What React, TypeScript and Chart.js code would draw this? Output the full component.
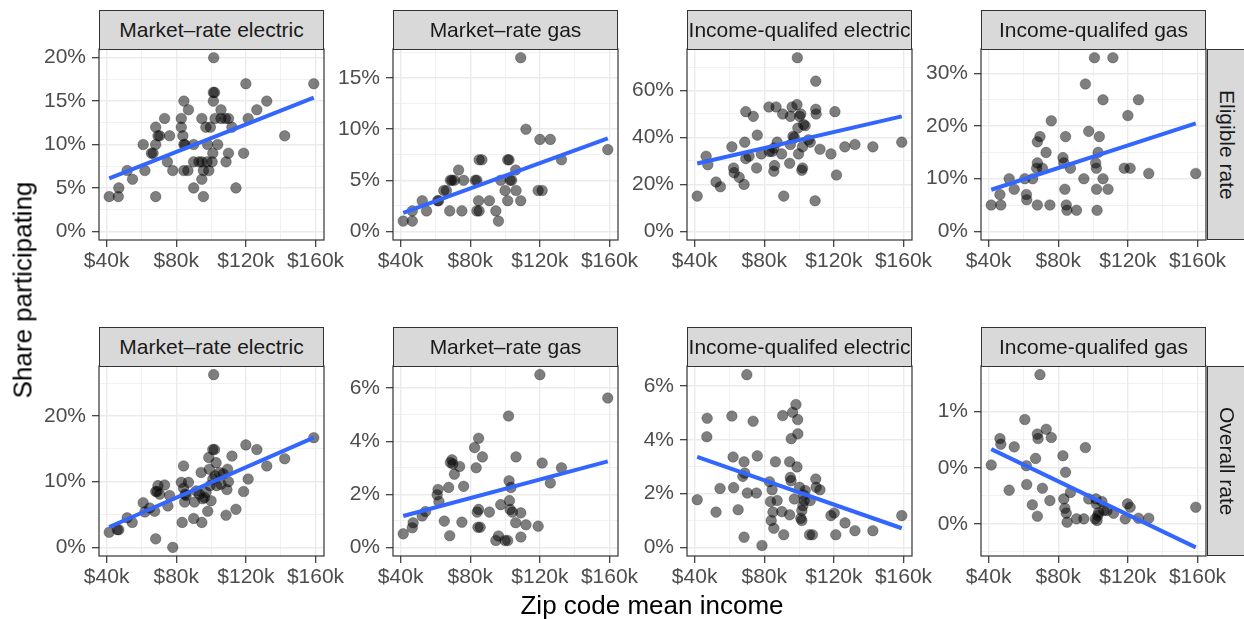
import React, { useEffect, useRef } from "react";
import { Chart, registerables } from "chart.js";

Chart.register(...registerables);

const FONT = '"Liberation Sans", Arial, Helvetica, sans-serif';

// ---------------- data (x: zip code mean income in $k, y: share in %) ----------------
const mrElecEligibleX = [41.5, 46.7, 47, 51.8, 54.9, 61, 62, 65.7, 66.7, 68.2, 68.2, 68.2, 69.5, 70.5, 73.3, 74.9, 76.2, 78, 82.9, 82.9, 83.8, 84.4, 84.4, 85, 84.4, 86.7, 87, 90, 90, 90, 93, 94.7, 94.7, 94.7, 95.6, 95.6, 97, 98, 98.7, 99.6, 100.6, 101, 101.3, 101.3, 102, 101.5, 102.3, 103.8, 105.7, 105.7, 108.2, 108.6, 110, 110, 112, 114.3, 118.7, 120, 121.3, 126.3, 132, 142.3, 159, 97.7];
const mrElecEligibleY = [4, 4, 5, 7, 6, 10, 7, 9, 9, 10, 12, 4, 11, 11, 13, 8, 11, 7, 13, 12, 11, 15, 10, 10, 7, 7, 14, 10, 8, 5, 8, 13, 8, 6, 4, 7, 12, 10, 7, 12, 8, 9, 15, 16, 16, 20, 13, 10, 14, 13, 13, 8, 9, 13, 12, 5, 9, 17, 13, 14, 15, 11, 17, 8];
const mrElecEligibleFit = [6.1, 15.4];

const mrGasEligibleX = [41.5, 46.7, 46.7, 52.4, 54.9, 61.3, 61.8, 64.8, 66.3, 68.2, 68.6, 69.5, 70.9, 73.3, 75.2, 76.2, 82.9, 83.8, 83.8, 84.8, 85.1, 85.1, 86.7, 91, 94.7, 96.2, 97.5, 100, 101.5, 102.3, 101.5, 102.9, 103.8, 106.1, 106.3, 109, 109, 112, 119, 121.3, 120, 126, 132.4, 159];
const mrGasEligibleY = [1, 1, 2, 3, 2, 3, 3, 4, 4, 2, 5, 5, 5, 6, 2, 5, 5, 5, 2, 3, 2, 7, 7, 3, 2, 1, 5, 4, 7, 7, 3, 5, 5, 6, 4, 3, 17, 10, 4, 4, 9, 9, 7, 8];
const mrGasEligibleFit = [1.8, 9.1];

const iqElecEligibleX = [41.5, 46.6, 47.6, 52.3, 54.8, 61.4, 62.4, 62.7, 65.6, 68.4, 68.8, 69.4, 69.4, 71.3, 73.7, 75.6, 76, 78.3, 82.7, 83, 84.5, 85.5, 85.5, 85.9, 86.8, 87.4, 90, 90.6, 91.2, 94.6, 95, 95, 96, 96.5, 97.3, 98.8, 99, 99.3, 99.7, 100.3, 101, 101.6, 102, 102, 102.6, 103.5, 105.4, 106.4, 109.2, 109.6, 109.8, 109.6, 112, 118.3, 120.6, 121.5, 126.3, 132.1, 142.4, 159];
const iqElecEligibleY = [15, 32, 28.4, 21, 19, 36, 27, 25, 23, 20, 38, 51, 31, 32, 49, 27, 41, 33, 53, 34, 34, 35.5, 25.6, 28, 53, 38, 33, 50, 15, 29, 37, 49, 53, 40.5, 40, 54, 74, 44, 33, 49, 50, 26, 27, 36, 45.5, 45, 39, 38, 13, 52, 50, 64, 35, 33, 51, 24, 36, 37, 36, 38];
const iqElecEligibleFit = [28.9, 49.0];

const iqGasEligibleX = [41.5, 47, 46.5, 51.8, 54.7, 60.8, 61.7, 61.9, 65.3, 67.6, 68, 68, 68, 69.5, 70.9, 73, 75.2, 76, 82.7, 83.2, 83.8, 84.2, 84.6, 85, 87, 90.5, 94.7, 95.6, 97.5, 100.8, 101.5, 101.9, 102.3, 102, 102.9, 103.6, 105.7, 105.7, 108.6, 111.4, 117.9, 120, 121.3, 126.1, 132, 159];
const iqGasEligibleY = [5, 5, 7, 10, 8, 10, 7, 6, 10, 12, 13, 5, 17, 18, 12, 15, 5, 21, 14, 13, 8, 18, 5, 4, 12, 4, 10, 28, 19, 33, 13, 12, 4, 8, 15, 18, 25, 10, 8, 33, 12, 22, 12, 25, 11, 11];
const iqGasEligibleFit = [7.9, 20.5];

const mrElecOverallX = [41.5, 46.1, 47, 51.8, 54.7, 61, 62, 64.8, 67.6, 68.2, 68.2, 69, 69.5, 70.5, 73.3, 75.2, 76.2, 78, 82.9, 83.4, 84.2, 84.2, 84.8, 85.1, 85.7, 87, 90, 90.5, 91.4, 93.3, 94.3, 94.7, 95.2, 96.2, 97.1, 98.1, 98.7, 99, 99.4, 100, 101, 101, 101.5, 102, 102.3, 102.9, 103.2, 104.8, 105.7, 107, 108.6, 109.1, 109.5, 110, 112, 114.3, 118.7, 120, 121.3, 126.3, 132, 142.3, 159];
const mrElecOverallY = [2.3, 2.7, 2.7, 4.5, 3.8, 6.8, 5.4, 6, 5.5, 1.3, 8.5, 8.5, 9.4, 8.1, 9.5, 6.3, 7.9, 0, 9.9, 3.8, 12.4, 9, 6.9, 8.1, 7.9, 9.9, 4.4, 6.9, 8.6, 8.1, 11.4, 3.8, 7.4, 7.6, 8.4, 5.5, 13.7, 11.9, 9.4, 7.1, 10.4, 14.9, 26.3, 14.9, 10.9, 12.9, 9.4, 11.4, 9.6, 11.2, 4.9, 8.8, 11.9, 10, 13.9, 5.8, 8.5, 15.6, 10.4, 14.9, 12.4, 13.5, 16.7];
const mrElecOverallFit = [3.1, 16.7];

const mrGasOverallX = [41.5, 46.7, 47.2, 52.4, 54.3, 61, 61.5, 62, 65.1, 67.6, 68.2, 68.6, 69.5, 70, 70.9, 73.9, 75.2, 76.2, 82.5, 83.4, 84, 84.8, 84.8, 84.4, 85.7, 87, 91, 94.7, 96.2, 97.5, 100, 101.5, 102, 102.3, 102.5, 102.9, 103.4, 104.2, 106.1, 106.3, 109, 109.1, 112, 119, 120, 121.3, 126, 132.4, 159];
const mrGasOverallY = [0.51, 0.74, 0.93, 1.18, 1.35, 1.98, 2.18, 1.73, 0.99, 2.26, 0.44, 3.2, 3.3, 3.14, 2.76, 3.05, 0.95, 2.3, 3.76, 3.0, 1.33, 4.11, 1.43, 0.76, 0.76, 3.41, 1.33, 0.26, 0.43, 1.61, 0.26, 0.26, 4.95, 2.51, 1.76, 1.43, 2.26, 1.33, 0.93, 3.41, 1.3, 0.39, 0.85, 0.8, 6.51, 3.18, 2.43, 3.0, 5.63];
const mrGasOverallFit = [1.18, 3.24];

const iqElecOverallX = [41.5, 47.2, 47, 52.3, 54.6, 61.4, 62.1, 62.4, 65, 67.7, 68.4, 68.4, 68.8, 70, 70.3, 73.6, 75.5, 76, 78.7, 83, 83.6, 84, 84.5, 85, 85.5, 86.4, 87.4, 90.1, 90.6, 91.2, 94.6, 94.6, 95, 95.4, 95.5, 96.3, 97.3, 98.2, 98.8, 99.2, 99.3, 100.3, 101, 101.6, 101.6, 102.2, 102.6, 103, 103.5, 106.4, 106, 107.7, 109.6, 109.8, 112, 118.3, 120.2, 121.1, 126.4, 132.1, 142.4, 159];
const iqElecOverallY = [1.77, 4.8, 4.11, 1.31, 2.19, 4.88, 3.36, 2.22, 1.4, 2.64, 3.18, 0.38, 2.76, 6.42, 2.02, 4.69, 2.02, 3.4, 0.07, 2.44, 1.7, 1.0, 2.14, 1.31, 0.71, 3.18, 1.74, 1.33, 4.9, 0.47, 1.21, 3.18, 2.6, 2.48, 4.04, 5.02, 1.8, 5.31, 2.99, 4.75, 4.22, 2.23, 1.08, 1.0, 1.37, 1.55, 1.95, 1.74, 2.11, 1.74, 0.47, 0.47, 2.54, 2.23, 2.14, 1.18, 1.28, 0.47, 0.91, 0.62, 0.62, 1.18];
const iqElecOverallFit = [3.36, 0.71];

const iqGasOverallX = [41.5, 46.5, 47, 51.8, 54.7, 60.8, 61.7, 61.9, 65.1, 67, 68, 68, 68.4, 69.5, 70.9, 73.1, 75.2, 76, 82.7, 83.2, 83.8, 84.2, 84.6, 85.1, 87, 90.5, 94.7, 95.6, 97.5, 101.3, 101.7, 101.9, 102.3, 102.7, 103.2, 105.1, 106.1, 108, 111.8, 118.5, 119.8, 121.3, 126.1, 132, 159];
const iqGasOverallY = [0.524, 0.76, 0.71, 0.3, 0.686, 0.93, 0.518, 0.35, 0.17, 0.583, 0.068, 0.8, 0.76, 1.33, 0.317, 0.843, 0.207, 0.77, 0.607, 0.222, 0.139, 0.46, 0.095, 0.015, 0.28, 0.044, 0.044, 0.68, 0.222, 0.044, 0.222, 0.178, 0.03, 0.074, 0.1, 0.198, 0.118, 0.118, 0.095, 0.044, 0.178, 0.148, 0.05, 0.05, 0.148];
const iqGasOverallFit = [0.666, -0.21];

// ---------------- tick values / labels ----------------
const xTickValues = [40, 80, 120, 160];
const xTickLabels = ["$40k", "$80k", "$120k", "$160k"];

const mrElecEligibleTicks = [0, 5, 10, 15, 20];
const mrElecEligibleTickLabels = ["0%", "5%", "10%", "15%", "20%"];
const mrGasEligibleTicks = [0, 5, 10, 15];
const mrGasEligibleTickLabels = ["0%", "5%", "10%", "15%"];
const iqElecEligibleTicks = [0, 20, 40, 60];
const iqElecEligibleTickLabels = ["0%", "20%", "40%", "60%"];
const iqGasEligibleTicks = [0, 10, 20, 30];
const iqGasEligibleTickLabels = ["0%", "10%", "20%", "30%"];
const mrElecOverallTicks = [0, 10, 20];
const mrElecOverallTickLabels = ["0%", "10%", "20%"];
const mrGasOverallTicks = [0, 2, 4, 6];
const mrGasOverallTickLabels = ["0%", "2%", "4%", "6%"];
const iqElecOverallTicks = [0, 2, 4, 6];
const iqElecOverallTickLabels = ["0%", "2%", "4%", "6%"];
const iqGasOverallTicks = [0, 0.5, 1.0];
const iqGasOverallTickLabels = ["0%", "0%", "1%"];

const columnTitles = ["Market\u2013rate electric", "Market\u2013rate gas", "Income-qualifed electric", "Income-qualifed gas"];
const rowTitles = ["Eligible rate", "Overall rate"];
const xTitle = "Zip code mean income";
const yTitle = "Share participating";

const panels = [
  { xs: mrElecEligibleX, ys: mrElecEligibleY, fit: mrElecEligibleFit, ticks: mrElecEligibleTicks, labels: mrElecEligibleTickLabels, row: 0, col: 0 },
  { xs: mrGasEligibleX, ys: mrGasEligibleY, fit: mrGasEligibleFit, ticks: mrGasEligibleTicks, labels: mrGasEligibleTickLabels, row: 0, col: 1 },
  { xs: iqElecEligibleX, ys: iqElecEligibleY, fit: iqElecEligibleFit, ticks: iqElecEligibleTicks, labels: iqElecEligibleTickLabels, row: 0, col: 2 },
  { xs: iqGasEligibleX, ys: iqGasEligibleY, fit: iqGasEligibleFit, ticks: iqGasEligibleTicks, labels: iqGasEligibleTickLabels, row: 0, col: 3 },
  { xs: mrElecOverallX, ys: mrElecOverallY, fit: mrElecOverallFit, ticks: mrElecOverallTicks, labels: mrElecOverallTickLabels, row: 1, col: 0 },
  { xs: mrGasOverallX, ys: mrGasOverallY, fit: mrGasOverallFit, ticks: mrGasOverallTicks, labels: mrGasOverallTickLabels, row: 1, col: 1 },
  { xs: iqElecOverallX, ys: iqElecOverallY, fit: iqElecOverallFit, ticks: iqElecOverallTicks, labels: iqElecOverallTickLabels, row: 1, col: 2 },
  { xs: iqGasOverallX, ys: iqGasOverallY, fit: iqGasOverallFit, ticks: iqGasOverallTicks, labels: iqGasOverallTickLabels, row: 1, col: 3 },
];

// ---------------- layout ----------------
const PLOT_LEFT = [99, 393, 687, 981];
const PLOT_W = 225;
const PLOT_TOP = [49, 366];
const PLOT_H = [191, 190];
const STRIP_TOP = [10, 327];
const YW = 80;
const PT = 14;
const PR = 36;
const XH = 40;
const PB = 4;

const allX = panels.flatMap((p) => p.xs);
const X_LO = Math.min(...allX);
const X_HI = Math.max(...allX);
const X_MIN = X_LO - 0.05 * (X_HI - X_LO);
const X_MAX = X_HI + 0.05 * (X_HI - X_LO);

function withMinor(majors: number[], lo: number, hi: number) {
  const step = (majors[1] - majors[0]) / 2;
  const out: number[] = [];
  const start = majors[0] - step;
  const end = majors[majors.length - 1] + step;
  for (let k = 0; start + k * step <= end + 1e-9; k++) {
    const v = +(start + k * step).toFixed(6);
    if (v >= lo && v <= hi) out.push(v);
  }
  return out;
}

function axisOptions(axis: "x" | "y", majors: number[], labels: string[], min: number, max: number) {
  const all = withMinor(majors, min, max);
  const isMajor = (v: number) => majors.some((m) => Math.abs(m - v) < 1e-6);
  return {
    type: "linear",
    position: axis === "x" ? "bottom" : "left",
    min,
    max,
    bounds: "data",
    afterBuildTicks: (s: any) => {
      s.ticks = all.map((v) => ({ value: v }));
    },
    afterFit: (s: any) => {
      if (axis === "x") s.height = XH;
      else s.width = YW;
      s.paddingLeft = 0;
      s.paddingRight = 0;
      s.paddingTop = 0;
      s.paddingBottom = 0;
    },
    ticks: {
      autoSkip: false,
      maxRotation: 0,
      minRotation: 0,
      padding: axis === "x" ? 2 : 6,
      color: "#4D4D4D",
      font: { family: FONT, size: 21 },
      callback: (v: number) => {
        const i = majors.findIndex((m) => Math.abs(m - v) < 1e-6);
        return i >= 0 ? labels[i] : "";
      },
    },
    grid: {
      color: "#EBEBEB",
      drawOnChartArea: true,
      drawTicks: true,
      tickLength: 7,
      lineWidth: (c: any) => (c.tick && isMajor(c.tick.value) ? 1.4 : 0.7),
      tickWidth: (c: any) => (c.tick && isMajor(c.tick.value) ? 1.2 : 0),
      tickColor: (c: any) => (c.tick && isMajor(c.tick.value) ? "#333333" : "rgba(0,0,0,0)"),
    },
    border: { display: false },
  };
}

const borderPlugin = {
  id: "panelBorder",
  afterDraw(chart: any) {
    const { ctx, chartArea: a } = chart;
    ctx.save();
    ctx.strokeStyle = "#333333";
    ctx.lineWidth = 1.2;
    ctx.strokeRect(a.left, a.top, a.right - a.left, a.bottom - a.top);
    ctx.restore();
  },
};

function Panel(props: any) {
  const { xs, ys, fit, ticks, labels, row, col } = props;
  const ref = useRef<HTMLCanvasElement>(null);
  const left = PLOT_LEFT[col] - YW;
  const top = PLOT_TOP[row] - PT;
  const cw = YW + PLOT_W + PR;
  const ch = PT + PLOT_H[row] + XH + PB;

  useEffect(() => {
    const yAll = ys.concat(fit);
    const lo = Math.min(0, ...yAll);
    const hi = Math.max(...yAll);
    const pad = 0.05 * (hi - lo);
    const x0 = Math.min(...xs);
    const x1 = Math.max(...xs);
    const chart = new Chart(ref.current as HTMLCanvasElement, {
      type: "scatter",
      data: {
        datasets: [
          {
            data: [
              { x: x0, y: fit[0] },
              { x: x1, y: fit[1] },
            ],
            showLine: true,
            borderColor: "#3366FF",
            backgroundColor: "#3366FF",
            borderWidth: 4,
            pointRadius: 0,
            pointHoverRadius: 0,
          },
          {
            data: xs.map((x: number, i: number) => ({ x, y: ys[i] })),
            pointRadius: 5.3,
            pointHoverRadius: 5.3,
            backgroundColor: "rgba(0,0,0,0.5)",
            borderColor: "rgba(0,0,0,0.45)",
            borderWidth: 0.6,
          },
        ],
      } as any,
      options: {
        responsive: false,
        animation: false,
        events: [],
        layout: { padding: { left: 0, top: PT, right: PR, bottom: PB } },
        plugins: { legend: { display: false }, tooltip: { enabled: false } },
        scales: {
          x: axisOptions("x", xTickValues, xTickLabels, X_MIN, X_MAX),
          y: axisOptions("y", ticks, labels, lo - pad, hi + pad),
        },
      } as any,
      plugins: [borderPlugin],
    });
    return () => chart.destroy();
  }, []);

  return (
    <canvas
      ref={ref}
      width={cw}
      height={ch}
      style={{ position: "absolute", left, top, width: cw, height: ch }}
    />
  );
}

const stripStyle: any = {
  position: "absolute",
  boxSizing: "border-box",
  background: "#D9D9D9",
  border: "1.2px solid #333333",
  display: "flex",
  alignItems: "center",
  justifyContent: "center",
  color: "#1A1A1A",
  fontSize: 21,
  fontFamily: FONT,
  whiteSpace: "nowrap",
  overflow: "hidden",
};

export default function App() {
  return (
    <div
      style={{
        position: "absolute",
        left: 0,
        top: 0,
        width: 1244,
        height: 619,
        overflow: "hidden",
        background: "#FFFFFF",
        fontFamily: FONT,
      }}
    >
      {panels.map((p, i) => (
        <Panel key={i} {...p} />
      ))}
      {[0, 1].map((r) =>
        columnTitles.map((t, c) => (
          <div
            key={`s${r}${c}`}
            style={{
              ...stripStyle,
              left: PLOT_LEFT[c],
              top: STRIP_TOP[r],
              width: PLOT_W,
              height: PLOT_TOP[r] - STRIP_TOP[r] + 1,
            }}
          >
            {t}
          </div>
        ))
      )}
      {rowTitles.map((t, r) => (
        <div
          key={`r${r}`}
          style={{
            ...stripStyle,
            left: PLOT_LEFT[3] + PLOT_W + 1,
            top: PLOT_TOP[r],
            width: 40,
            height: PLOT_H[r],
            writingMode: "vertical-rl",
          }}
        >
          {t}
        </div>
      ))}
      <div
        style={{
          position: "absolute",
          left: 652,
          top: 605,
          transform: "translate(-50%, -50%)",
          fontSize: 26,
          color: "#000",
          whiteSpace: "nowrap",
        }}
      >
        {xTitle}
      </div>
      <div
        style={{
          position: "absolute",
          left: 23,
          top: 290,
          transform: "translate(-50%, -50%) rotate(-90deg)",
          fontSize: 26,
          color: "#000",
          whiteSpace: "nowrap",
        }}
      >
        {yTitle}
      </div>
    </div>
  );
}
